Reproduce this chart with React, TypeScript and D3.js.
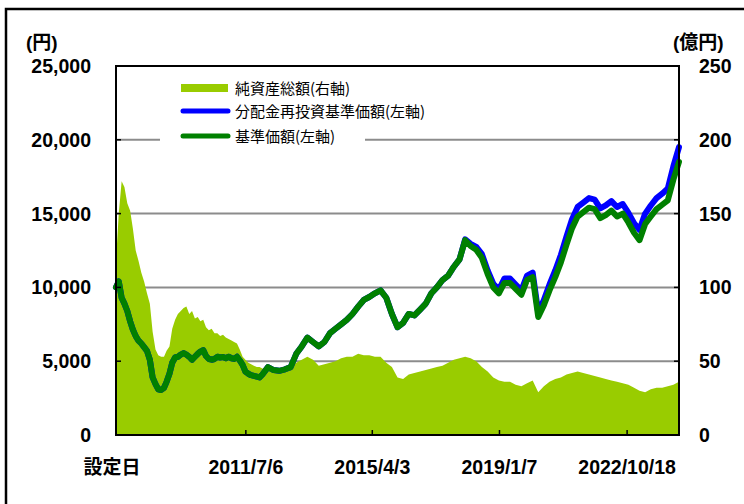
import React from 'react';
import * as d3 from 'd3';

// monthly 2007-09 .. 2011-12, then bi-monthly 2012-01 .. 2024-05
const dates = [
  '2007-09','2007-10','2007-11','2007-12',
  '2008-01','2008-02','2008-03','2008-04','2008-05','2008-06','2008-07','2008-08','2008-09','2008-10','2008-11','2008-12',
  '2009-01','2009-02','2009-03','2009-04','2009-05','2009-06','2009-07','2009-08','2009-09','2009-10','2009-11','2009-12',
  '2010-01','2010-02','2010-03','2010-04','2010-05','2010-06','2010-07','2010-08','2010-09','2010-10','2010-11','2010-12',
  '2011-01','2011-02','2011-03','2011-04','2011-05','2011-06','2011-07','2011-08','2011-09','2011-10','2011-11','2011-12',
  '2012-01','2012-03','2012-05','2012-07','2012-09','2012-11',
  '2013-01','2013-03','2013-05','2013-07','2013-09','2013-11',
  '2014-01','2014-03','2014-05','2014-07','2014-09','2014-11',
  '2015-01','2015-03','2015-05','2015-07','2015-09','2015-11',
  '2016-01','2016-03','2016-05','2016-07','2016-09','2016-11',
  '2017-01','2017-03','2017-05','2017-07','2017-09','2017-11',
  '2018-01','2018-03','2018-05','2018-07','2018-09','2018-11',
  '2019-01','2019-03','2019-05','2019-07','2019-09','2019-11',
  '2020-01','2020-03','2020-05','2020-07','2020-09','2020-11',
  '2021-01','2021-03','2021-05','2021-07','2021-09','2021-11',
  '2022-01','2022-03','2022-05','2022-07','2022-09','2022-11',
  '2023-01','2023-03','2023-05','2023-07','2023-09','2023-11',
  '2024-01','2024-03','2024-05',
];

// 基準価額 (円)
const navValues = [
  10000, 10400, 9300, 8900,
  8400, 7700, 7150, 6700, 6400, 6200, 5950, 5700, 5100, 3900, 3450, 3100,
  3050, 3200, 3600, 4150, 4900, 5250, 5300, 5450, 5550, 5450, 5300, 5100,
  5300, 5500, 5650, 5750, 5350, 5150, 5100, 5150, 5300, 5250, 5280, 5200,
  5300, 5200, 5150, 5300, 5050, 4750, 4300, 4150, 4050, 4000, 3950, 3900,
  4100, 4600, 4400, 4350, 4450, 4600,
  5500, 6000, 6600, 6300, 6000, 6300,
  6900, 7200, 7500, 7800, 8200, 8700,
  9150, 9350, 9600, 9800, 9300, 8200,
  7300, 7600, 8200, 8100, 8500, 8900,
  9600, 10000, 10500, 10800, 11400, 11900,
  13200, 12800, 12550, 12000, 10900, 10000,
  9600, 10300, 10300, 9900, 9500, 10500,
  10700, 8000, 8800, 9800, 10700, 11700,
  12900, 14000, 14800, 15100, 15400, 15300,
  14700, 14900, 15200, 14800, 15000, 14400,
  13700, 13200, 14300, 14800, 15300, 15600,
  15900, 17300, 18500,
];

// 分配金再投資基準価額 (円)
const reinvestValues = [
  10000, 10400, 9300, 8900,
  8400, 7700, 7150, 6700, 6400, 6200, 5950, 5700, 5100, 3900, 3450, 3100,
  3050, 3200, 3600, 4150, 4900, 5250, 5300, 5450, 5550, 5450, 5300, 5100,
  5300, 5500, 5650, 5750, 5350, 5150, 5100, 5150, 5300, 5250, 5280, 5200,
  5300, 5200, 5150, 5300, 5050, 4750, 4300, 4150, 4050, 4000, 3950, 3900,
  4100, 4600, 4400, 4350, 4450, 4600,
  5500, 6000, 6600, 6300, 6000, 6300,
  6900, 7200, 7500, 7800, 8200, 8700,
  9150, 9350, 9600, 9800, 9300, 8200,
  7300, 7600, 8200, 8100, 8500, 8900,
  9600, 10000, 10500, 10800, 11400, 11900,
  13250, 12950, 12750, 12250, 11150, 10250,
  9850, 10600, 10600, 10200, 9800, 10800,
  11000, 8300, 9150, 10200, 11150, 12200,
  13450, 14600, 15450, 15750, 16050, 15950,
  15350, 15550, 15850, 15450, 15650, 15050,
  14350, 13900, 15000, 15550, 16050, 16350,
  16700, 18200, 19500,
];

// 純資産総額 (億円)
const netAssets = [
  118, 150, 172, 168,
  157, 152, 140, 125, 118, 110, 104, 96, 89, 70, 58, 54,
  53, 53, 57, 60, 72, 78, 82, 84, 86, 87, 82, 84,
  79, 80, 77, 78, 73, 71, 72, 69, 69, 67, 68, 66,
  65, 64, 63, 62, 58, 53, 51, 49, 48, 47, 46, 46,
  45, 45, 45, 45, 45, 46,
  49, 51, 53, 51, 47, 48,
  49, 50, 52, 53, 53, 55,
  54, 54, 53, 53, 49, 46,
  39, 38, 41, 42, 43, 44,
  45, 46, 47, 49, 51, 52,
  53, 52, 50, 46, 43, 39,
  37, 36, 36, 34, 33, 35,
  37, 29, 33, 36, 38, 39,
  41, 42, 43, 42, 41, 40,
  39, 38, 37, 36, 35, 34,
  32, 30, 29, 31, 32, 32,
  33, 34, 36,
];

const leftTicks = [0, 5000, 10000, 15000, 20000, 25000];
const rightTicks = [0, 50, 100, 150, 200, 250];
const xTickDates = ['2011-07-06', '2015-04-03', '2019-01-07', '2022-10-18'];
const xTickLabels = ['2011/7/6', '2015/4/3', '2019/1/7', '2022/10/18'];
const startLabel = '設定日';
const leftUnit = '(円)';
const rightUnit = '(億円)';
const legendLabels = ['純資産総額(右軸)', '分配金再投資基準価額(左軸)', '基準価額(左軸)'];

const AREA_COLOR = '#99CC00';
const BLUE = '#0000FF';
const GREEN = '#008000';
const GRID = '#8C8C8C';
const NUM_FONT = '"Liberation Sans", Arial, "Noto Sans CJK JP", sans-serif';
const JP_FONT = '"Noto Sans CJK JP", "Liberation Sans", sans-serif';

export default function App() {
  const W = 744, H = 504;
  const L = 116, T = 66, R = 679, B = 435;
  const parseMonth = d3.timeParse('%Y-%m');
  const parseDay = d3.timeParse('%Y-%m-%d');
  const ds = dates.map((d) => parseMonth(d) as Date);
  const x = d3.scaleTime().domain([ds[0], ds[ds.length - 1]]).range([L, R]);
  const yL = d3.scaleLinear().domain([0, 25000]).range([B, T]);
  const yR = d3.scaleLinear().domain([0, 250]).range([B, T]);

  const area = d3.area<number>()
    .x((_, i) => x(ds[i]))
    .y0(B)
    .y1((d) => yR(d));
  const line = d3.line<number>()
    .x((_, i) => x(ds[i]))
    .y((d) => yL(d));

  const legendColors = [AREA_COLOR, BLUE, GREEN];
  const legendY = [88, 111, 136];

  return (
    <svg width={W} height={H} style={{ position: 'absolute', left: 0, top: 0, background: '#fff' }}>
      <rect x={0} y={0} width={W} height={H} fill="#fff" />
      {/* outer frame */}
      <rect x={6} y={9} width={W + 20} height={H + 20} fill="none" stroke="#000" strokeWidth={2.5} />

      {/* gridlines */}
      {leftTicks.filter((t) => t > 0 && t < 25000).map((t) => (
        <line key={'g' + t} x1={L} x2={R} y1={yL(t)} y2={yL(t)} stroke={GRID} strokeWidth={2} />
      ))}

      {/* legend background */}
      <rect x={160} y={72} width={205} height={78} fill="#fff" />

      {/* net assets area */}
      <path d={area(netAssets) || ''} fill={AREA_COLOR} />

      {/* lines */}
      <path d={line(reinvestValues) || ''} fill="none" stroke={BLUE} strokeWidth={6} strokeLinejoin="round" strokeLinecap="round" />
      <path d={line(navValues) || ''} fill="none" stroke={GREEN} strokeWidth={6} strokeLinejoin="round" strokeLinecap="round" />

      {/* plot border */}
      <rect x={L} y={T} width={R - L} height={B - T} fill="none" stroke="#000" strokeWidth={2} />

      {/* ticks */}
      {leftTicks.map((t) => (
        <line key={'lt' + t} x1={L} x2={L + 5} y1={yL(t)} y2={yL(t)} stroke="#000" strokeWidth={1.5} />
      ))}
      {rightTicks.map((t) => (
        <line key={'rt' + t} x1={R - 5} x2={R} y1={yR(t)} y2={yR(t)} stroke="#000" strokeWidth={1.5} />
      ))}
      {xTickDates.map((d) => {
        const xx = x(parseDay(d) as Date);
        return <line key={'xt' + d} x1={xx} x2={xx} y1={B} y2={B - 5} stroke="#000" strokeWidth={1.5} />;
      })}

      {/* left tick labels */}
      {leftTicks.map((t) => (
        <text key={'ll' + t} x={91} y={yL(t) + 7} textAnchor="end" fontFamily={NUM_FONT} fontWeight="bold" fontSize={19.5} fill="#000">
          {d3.format(',')(t)}
        </text>
      ))}
      {/* right tick labels */}
      {rightTicks.map((t) => (
        <text key={'rl' + t} x={699} y={yR(t) + 7} textAnchor="start" fontFamily={NUM_FONT} fontWeight="bold" fontSize={19.5} fill="#000">
          {t}
        </text>
      ))}
      {/* unit labels */}
      <text x={26} y={49} fontFamily={NUM_FONT} fontWeight="bold" fontSize={19} fill="#000">{leftUnit}</text>
      <text x={673} y={49} fontFamily={NUM_FONT} fontWeight="bold" fontSize={19} fill="#000">{rightUnit}</text>

      {/* x labels */}
      <text x={112} y={474} textAnchor="middle" fontFamily={JP_FONT} fontWeight="bold" fontSize={19} fill="#000">{startLabel}</text>
      {xTickDates.map((d, i) => (
        <text key={'xl' + d} x={x(parseDay(d) as Date)} y={474} textAnchor="middle" fontFamily={NUM_FONT} fontWeight="bold" fontSize={19.5} fill="#000">
          {xTickLabels[i]}
        </text>
      ))}

      {/* legend */}
      {legendLabels.map((lab, i) => (
        <g key={'lg' + i}>
          {i === 0 ? (
            <rect x={181} y={legendY[i] - 4} width={47} height={8} fill={legendColors[i]} />
          ) : (
            <line x1={183} x2={228} y1={legendY[i]} y2={legendY[i]} stroke={legendColors[i]} strokeWidth={5} strokeLinecap="round" />
          )}
          <text x={235} y={legendY[i] + 5.5} fontFamily={JP_FONT} fontSize={15} fill="#000">{lab}</text>
        </g>
      ))}
    </svg>
  );
}
